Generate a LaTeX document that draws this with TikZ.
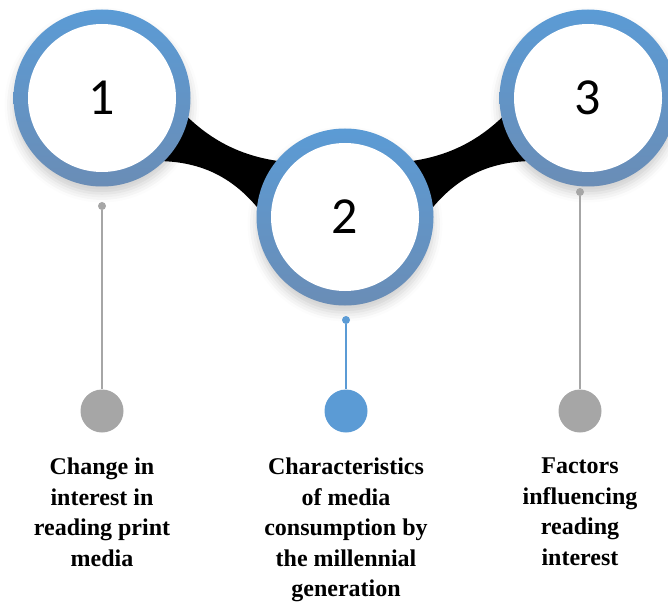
\documentclass[tikz,border=0pt]{standalone}
\usepackage{fontspec}
\setmainfont{Liberation Serif}
\newfontfamily\numfont{Carlito}
\usetikzlibrary{positioning,backgrounds,shadows.blur}
\definecolor{ringTop}{HTML}{5B9BD5}
\definecolor{ringBot}{HTML}{6A8DB6}
\definecolor{pinGray}{HTML}{A6A6A6}
\definecolor{pinBlue}{HTML}{5B9BD5}

\begin{document}
\begin{tikzpicture}[
	x=1pt, y=1pt,
	RingStyle/.style={circle, minimum size=177pt, inner sep=0pt,
		top color=ringTop, bottom color=ringBot,
		blur shadow={shadow xshift=0pt, shadow yshift=-7pt,
			shadow blur radius=9pt, shadow opacity=20}},
	FaceStyle/.style={circle, minimum size=148pt, inner sep=0pt, fill=white,
		font=\numfont\fontsize{52}{60}\selectfont},
	HeadStyle/.style={circle, minimum size=8pt, inner sep=0pt, fill=#1},
	DotStyle/.style={circle, minimum size=43pt, inner sep=0pt, fill=#1},
	PinStyle/.style={draw=#1, line width=2pt},
	LabelStyle/.style={align=center, inner sep=0pt, anchor=north,
		font=\bfseries\fontsize{24}{30.5}\selectfont},
	]
	\clip (0,0) rectangle (668,603);
	
	% the three rings
	\node [RingStyle] (r1) at (102,505) {};
	\node [RingStyle] (r2) at (345,386) {};
	\node [RingStyle] (r3) at (588,505) {};
	\node [FaceStyle] (f1) at (r1) {1};
	\node [FaceStyle] (f2) at (r2) {2};
	\node [FaceStyle] (f3) at (r3) {3};
	
	% pins below the rings
	\node [HeadStyle=pinGray] (h1) at (102,397) {};
	\node [HeadStyle=pinBlue] (h2) at (346,283) {};
	\node [HeadStyle=pinGray] (h3) at (580,411) {};
	\node [DotStyle=pinGray] (d1) at (102,192) {};
	\node [DotStyle=pinBlue] (d2) at (346,192) {};
	\node [DotStyle=pinGray] (d3) at (580,192) {};
	\draw [PinStyle=pinGray] (h1) -- (d1);
	\draw [PinStyle=pinBlue] (h2) -- (d2);
	\draw [PinStyle=pinGray] (h3) -- (d3);
	
	\node [LabelStyle, below=25pt of d1] (t1) {Change in\\interest in\\reading print\\media};
	\node [LabelStyle, below=25pt of d2] (t2) {Characteristics\\of media\\consumption by\\the millennial\\generation};
	\node [LabelStyle, below=25pt of d3] (t3) {Factors\\influencing\\reading\\interest};
	
	% black necks joining the rings
	\begin{pgfonlayer}{background}
	\begin{scope}[shift={(r1.center)}, rotate=-26.1]
	\fill (70,26) .. controls (115,8) and (155,8) .. (200,26)
		-- (200,-36) .. controls (155,-12) and (115,-12) .. (70,-36) -- cycle;
	\end{scope}
	\begin{scope}[shift={(r3.center)}, rotate=206.1, yscale=-1]
	\fill (70,26) .. controls (115,8) and (155,8) .. (200,26)
		-- (200,-36) .. controls (155,-12) and (115,-12) .. (70,-36) -- cycle;
	\end{scope}
	\end{pgfonlayer}
\end{tikzpicture}
\end{document}
